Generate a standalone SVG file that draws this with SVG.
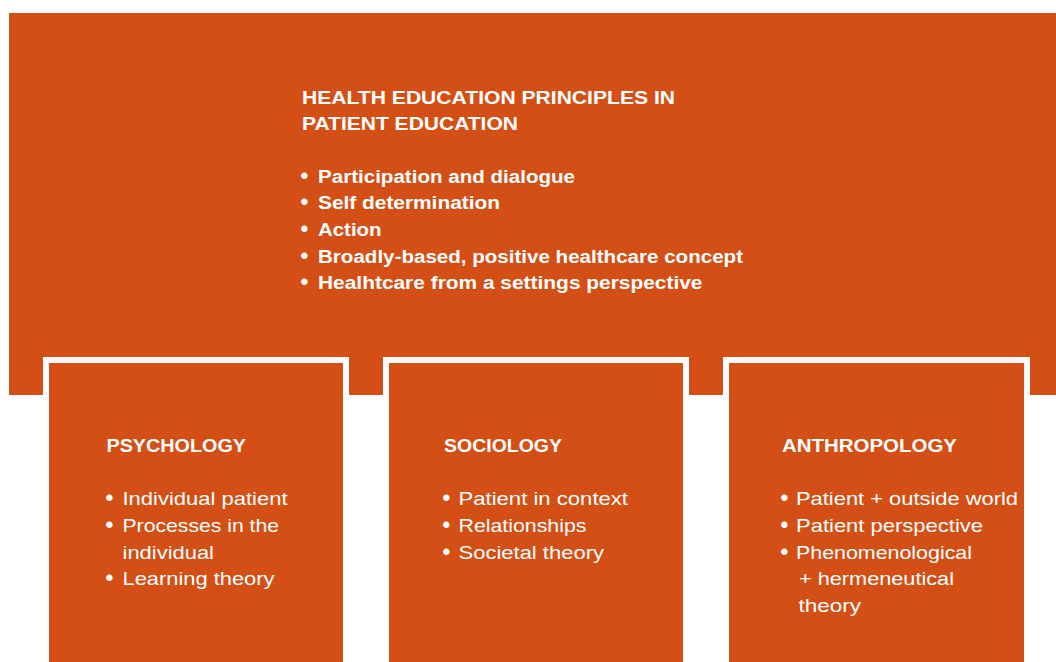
<svg xmlns="http://www.w3.org/2000/svg" width="1056" height="662" viewBox="0 0 1056 662">
  <style>
    .panel { fill: #D44F15; }
    .box { fill: #D44F15; stroke: #FFFFFF; stroke-width: 6; }
    .title { font-family: "Liberation Sans", Arial, sans-serif; font-weight: bold; font-size: 18px; fill: #FFFFFF; }
    .head { font-size: 19px; }
    .item { font-family: "Liberation Sans", Arial, sans-serif; font-size: 18.5px; fill: #FFFFFF; }
    .bold { font-weight: bold; font-size: 18px; }
    .dot { font-size: 22px; font-weight: bold; }
  </style>
  <rect width="1056" height="662" fill="#FFFFFF"/>

  <!-- Top panel: health education principles -->
  <g id="principles">
    <rect class="panel" x="9" y="13" width="1047" height="382"/>
    <text class="title head" x="302" y="104" textLength="373" lengthAdjust="spacingAndGlyphs">HEALTH EDUCATION PRINCIPLES IN</text>
    <text class="title head" x="302" y="130" textLength="216" lengthAdjust="spacingAndGlyphs">PATIENT EDUCATION</text>
    <g class="item bold">
      <text y="183"><tspan class="dot" x="300.5">•</tspan><tspan x="318" textLength="257" lengthAdjust="spacingAndGlyphs">Participation and dialogue</tspan></text>
      <text y="209"><tspan class="dot" x="300.5">•</tspan><tspan x="318" textLength="182" lengthAdjust="spacingAndGlyphs">Self determination</tspan></text>
      <text y="236"><tspan class="dot" x="300.5">•</tspan><tspan x="318" textLength="63.5" lengthAdjust="spacingAndGlyphs">Action</tspan></text>
      <text y="263"><tspan class="dot" x="300.5">•</tspan><tspan x="318" textLength="425" lengthAdjust="spacingAndGlyphs">Broadly-based, positive healthcare concept</tspan></text>
      <text y="289"><tspan class="dot" x="300.5">•</tspan><tspan x="318" textLength="384.5" lengthAdjust="spacingAndGlyphs">Healhtcare from a settings perspective</tspan></text>
    </g>
  </g>

  <!-- Discipline boxes -->
  <g id="psychology">
    <rect class="box" x="46" y="360" width="300" height="320"/>
    <text class="title" x="106.5" y="452" textLength="139.5" lengthAdjust="spacingAndGlyphs">PSYCHOLOGY</text>
    <g class="item">
      <text y="505"><tspan class="dot" x="105.5">•</tspan><tspan x="122.5" textLength="165" lengthAdjust="spacingAndGlyphs">Individual patient</tspan></text>
      <text y="532"><tspan class="dot" x="105.5">•</tspan><tspan x="122.5" textLength="156.5" lengthAdjust="spacingAndGlyphs">Processes in the</tspan></text>
      <text y="559" x="122.5" textLength="91.5" lengthAdjust="spacingAndGlyphs">individual</text>
      <text y="585"><tspan class="dot" x="105.5">•</tspan><tspan x="122.5" textLength="152" lengthAdjust="spacingAndGlyphs">Learning theory</tspan></text>
    </g>
  </g>

  <g id="sociology">
    <rect class="box" x="386" y="360" width="300" height="320"/>
    <text class="title" x="444" y="452" textLength="118" lengthAdjust="spacingAndGlyphs">SOCIOLOGY</text>
    <g class="item">
      <text y="505"><tspan class="dot" x="442.5">•</tspan><tspan x="458.5" textLength="169.5" lengthAdjust="spacingAndGlyphs">Patient in context</tspan></text>
      <text y="532"><tspan class="dot" x="442.5">•</tspan><tspan x="458.5" textLength="128" lengthAdjust="spacingAndGlyphs">Relationships</tspan></text>
      <text y="559"><tspan class="dot" x="442.5">•</tspan><tspan x="458.5" textLength="145.5" lengthAdjust="spacingAndGlyphs">Societal theory</tspan></text>
    </g>
  </g>

  <g id="anthropology">
    <rect class="box" x="726" y="360" width="301" height="320"/>
    <text class="title" x="782" y="452" textLength="175" lengthAdjust="spacingAndGlyphs">ANTHROPOLOGY</text>
    <g class="item">
      <text y="505"><tspan class="dot" x="780.5">•</tspan><tspan x="796" textLength="222" lengthAdjust="spacingAndGlyphs">Patient + outside world</tspan></text>
      <text y="532"><tspan class="dot" x="780.5">•</tspan><tspan x="796" textLength="187" lengthAdjust="spacingAndGlyphs">Patient perspective</tspan></text>
      <text y="559"><tspan class="dot" x="780.5">•</tspan><tspan x="796" textLength="176" lengthAdjust="spacingAndGlyphs">Phenomenological</tspan></text>
      <text y="585" x="799" textLength="155" lengthAdjust="spacingAndGlyphs">+ hermeneutical</text>
      <text y="612" x="798.5" textLength="62.5" lengthAdjust="spacingAndGlyphs">theory</text>
    </g>
  </g>

  <g id="connectors"/>
</svg>
